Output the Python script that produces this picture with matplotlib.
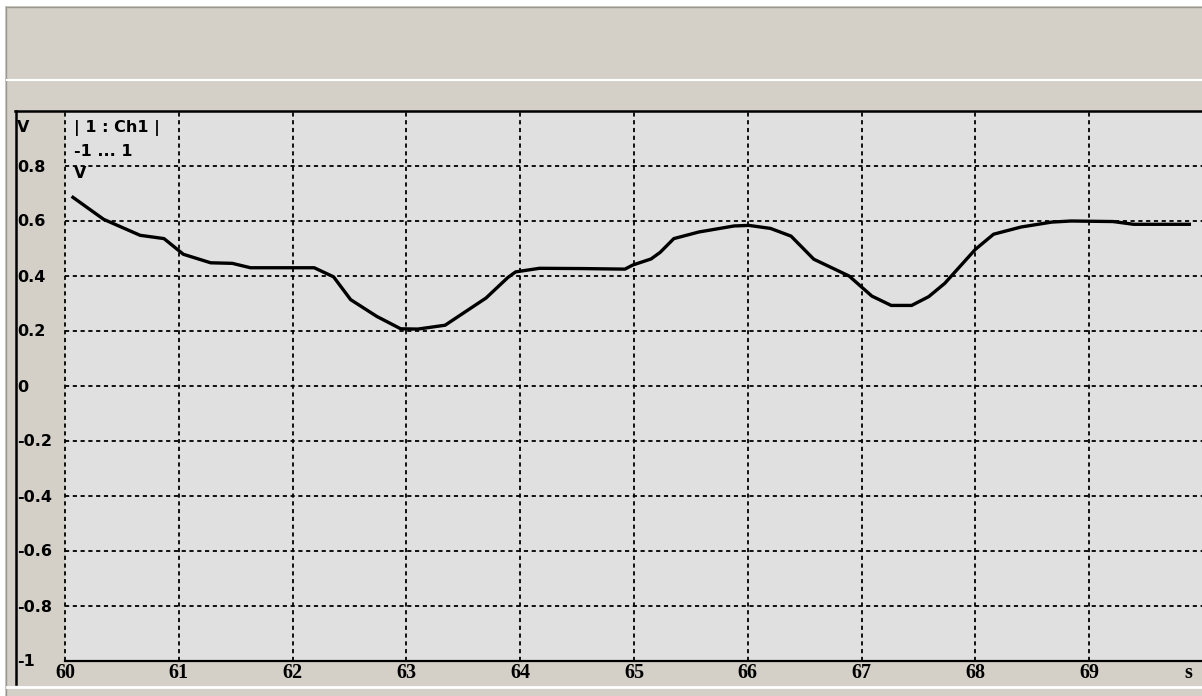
import matplotlib.pyplot as plt
from matplotlib.lines import Line2D
from matplotlib.patches import Rectangle

# signal (time in s, value in V)
t_vals = [60.07, 60.34, 60.66, 60.87, 61.04, 61.28, 61.47, 61.63, 62.19, 62.36,
          62.51, 62.74, 62.95, 63.10, 63.34, 63.70, 63.89, 63.96, 64.17, 64.55,
          64.92, 64.99, 65.15, 65.23, 65.35, 65.57, 65.88, 66.01, 66.20, 66.38,
          66.58, 66.89, 67.09, 67.26, 67.44, 67.59, 67.73, 68.00, 68.16, 68.40,
          68.67, 68.84, 69.21, 69.39, 69.88]
v_vals = [0.686, 0.606, 0.548, 0.536, 0.479, 0.448, 0.446, 0.430, 0.430, 0.397,
          0.314, 0.253, 0.208, 0.207, 0.221, 0.320, 0.394, 0.415, 0.428, 0.427,
          0.425, 0.440, 0.462, 0.486, 0.536, 0.560, 0.582, 0.584, 0.573, 0.545,
          0.461, 0.400, 0.327, 0.293, 0.293, 0.325, 0.373, 0.497, 0.552, 0.578,
          0.596, 0.600, 0.598, 0.588, 0.588]

x_ticks = [60, 61, 62, 63, 64, 65, 66, 67, 68, 69]
y_ticks = [0.8, 0.6, 0.4, 0.2, 0, -0.2, -0.4, -0.6, -0.8, -1]
y_labels = ['0.8', '0.6', '0.4', '0.2', '0', '-0.2', '-0.4', '-0.6', '-0.8', '-1']
info_lines = ['| 1 : Ch1 |', '-1 ... 1', 'V']

W, H = 1202, 696
PANEL = '#d4d0c8'
PLOT_BG = '#e0e0e0'

plt.rcParams['lines.scale_dashes'] = False

fig = plt.figure(figsize=(W / 100, H / 100), dpi=100, facecolor=PANEL)


def fx(px):
    return px / W


def fy(py):
    return 1 - py / H


# window chrome
fig.patches.append(Rectangle((0, fy(6)), 1, 6 / H, transform=fig.transFigure,
                             facecolor='white', edgecolor='none'))
fig.patches.append(Rectangle((0, 0), fx(5), 1, transform=fig.transFigure,
                             facecolor='white', edgecolor='none'))
fig.lines.append(Line2D([fx(5.5), fx(5.5)], [0, fy(6.5)], transform=fig.transFigure,
                        color='#9a9890', lw=1))
fig.lines.append(Line2D([fx(5.5), 1], [fy(6.5), fy(6.5)], transform=fig.transFigure,
                        color='#9a9890', lw=1))
fig.lines.append(Line2D([fx(7), 1], [fy(80), fy(80)], transform=fig.transFigure,
                        color='white', lw=1.5))
fig.lines.append(Line2D([fx(7), 1], [fy(686.5), fy(686.5)], transform=fig.transFigure,
                        color='white', lw=2))

# plot area
left, right, top, bottom = 65, 1203, 111, 661
ax = fig.add_axes([fx(left), fy(bottom), fx(right - left), (bottom - top) / H])
ax.set_facecolor(PLOT_BG)
ax.set_xlim(60, 70)
ax.set_ylim(-1, 1)

for x in x_ticks:
    ax.axvline(x, color='black', lw=1.3, dashes=(3.0, 2.6), zorder=1, clip_on=False)
for y in y_ticks[:-1]:
    ax.axhline(y, color='black', lw=1.3, dashes=(3.0, 2.6), zorder=1)

ax.plot(t_vals, v_vals, color='black', lw=2.4, zorder=3, solid_joinstyle='round')

for s in ['left', 'right', 'top']:
    ax.spines[s].set_visible(False)
ax.spines['bottom'].set_color('black')
ax.spines['bottom'].set_linewidth(1.6)
ax.set_yticks([])
ax.set_xticks(x_ticks)
ax.set_xticklabels([str(x) for x in x_ticks], fontfamily='Liberation Serif',
                   fontweight='bold', fontsize=14.5)
ax.tick_params(axis='x', length=0, pad=1.5)

# frame around the labels strip and plot
fig.lines.append(Line2D([fx(15), 1], [fy(110.5), fy(110.5)], transform=fig.transFigure,
                        color='black', lw=1.8))
fig.lines.append(Line2D([fx(15.5), fx(15.5)], [fy(110.5), fy(684)], transform=fig.transFigure,
                        color='black', lw=1.8))

# y labels in the side strip
lab_font = dict(family='DejaVu Sans', fontweight='bold', fontsize=11.5)
fig.text(fx(17), fy(128), 'V', ha='left', va='center', **lab_font)
for val, lab in zip(y_ticks, y_labels):
    ypx = bottom - (val + 1) / 2 * (bottom - top)
    fig.text(fx(17), fy(ypx + 1), lab, ha='left', va='center', **lab_font)

# channel info in the corner
for i, line in enumerate(info_lines):
    fig.text(fx(74), fy(128 + i * 23), line, ha='left', va='center', **lab_font)

fig.text(fx(1188), fy(673), 's', ha='center', va='center',
         fontfamily='Liberation Serif', fontweight='bold', fontsize=14.5)

fig.savefig('out.png', dpi=100, facecolor=PANEL)
